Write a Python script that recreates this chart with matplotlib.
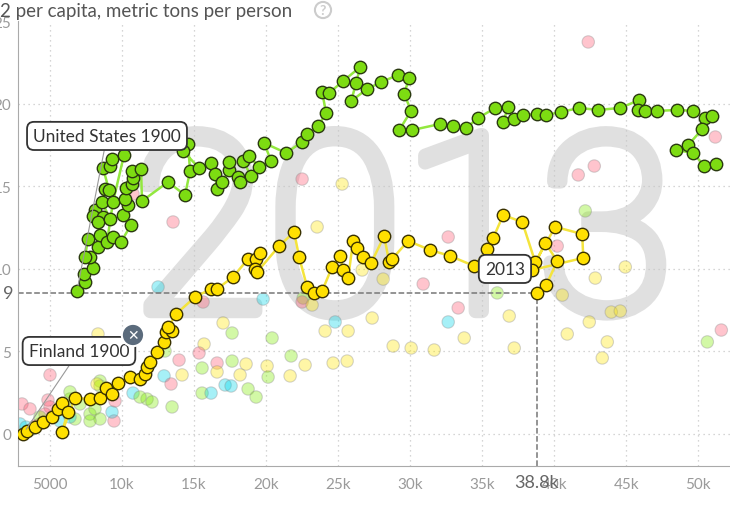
import matplotlib.pyplot as plt
import matplotlib.patheffects as pe

plt.rcParams['font.family'] = ['Lato', 'DejaVu Sans']

# United States trail 1900 -> 2013: GDP per capita and CO2 per person
us_gdp = [6875, 7430, 7361, 7986, 7778, 7430, 7639, 8333, 8472, 8125, 7986, 8681,
          8333, 9167, 8611, 8819, 9097, 8681, 9167, 9306, 10139, 9375, 8958, 9375,
          9931, 10625, 10069, 10417, 10208, 10278, 10694, 10764, 10694, 11319, 11389,
          13194, 14375, 14722, 14583, 14236, 15347, 16181, 16458, 16597, 16944, 17431,
          17431, 18056, 18194, 18958, 18403, 18819, 19514, 20347, 19861, 21389, 22500,
          22847, 23611, 24167, 23889, 24375, 25347, 26528, 26250, 25903, 27014, 27986,
          29167, 29931, 29583, 30069, 29236, 30139, 32083, 32986, 33889, 34722, 35903,
          36806, 36458, 37222, 37847, 38819, 39444, 40486, 41736, 43056, 44583, 45903,
          45833, 46319, 47153, 48542, 49653, 50486, 50972, 50278, 49306, 48472, 49653,
          50417, 51250]
us_co2 = [8.67, 9.21, 9.70, 10.06, 10.73, 10.73, 11.82, 11.33, 12.06, 13.58, 13.21, 13.15,
          12.85, 13.03, 14.06, 14.85, 14.79, 16.12, 16.24, 16.67, 16.91, 14.06, 11.64, 11.94,
          11.64, 12.67, 13.27, 13.88, 14.24, 14.91, 15.15, 15.52, 15.94, 16.06, 14.12,
          15.27, 14.48, 15.94, 17.58, 17.15, 16.12, 16.42, 15.76, 14.85, 15.27, 16.00,
          16.48, 15.58, 15.27, 15.64, 16.55, 16.85, 16.18, 16.55, 17.64, 17.03, 17.70,
          18.18, 18.67, 19.45, 20.73, 20.67, 21.39, 22.24, 21.27, 20.18, 20.91, 21.33,
          21.76, 21.58, 20.61, 19.58, 18.42, 18.42, 18.79, 18.67, 18.55, 19.15, 19.76,
          19.82, 18.91, 19.09, 19.33, 19.39, 19.33, 19.52, 19.76, 19.64, 19.76, 20.24,
          19.64, 19.58, 19.58, 19.64, 19.58, 19.15, 19.27, 18.48, 17.52, 17.21, 17.03,
          16.24, 16.36]

# Finland trail 1900 -> 2013
fi_gdp = [3125, 3403, 3958, 4514, 5139, 5556, 5833, 6250, 5833, 6736, 7778, 8472,
          8889, 9306, 9722, 10556, 11250, 11597, 11736, 11944, 12431, 12917, 13056,
          13472, 13194, 13750, 15069, 16181, 16597, 17708, 18750, 19306, 19583, 19236,
          19375, 20903, 21944, 22292, 22847, 23333, 23889, 24583, 25139, 25347, 25694,
          26042, 26319, 26736, 27292, 28194, 28542, 28750, 29861, 31389, 32778, 34444,
          35347, 35764, 36458, 37778, 38681, 40069, 41944, 42014, 38472, 39375, 40208,
          39444, 38800]
fi_co2 = [0.00, 0.18, 0.42, 0.73, 1.03, 1.52, 1.88, 1.33, 0.12, 2.18, 2.12, 2.18,
          2.79, 2.42, 3.09, 3.45, 3.33, 3.64, 4.06, 4.36, 4.97, 5.58, 6.18,
          6.24, 6.48, 7.27, 8.30, 8.79, 8.79, 9.52, 10.61, 10.61, 10.97, 10.00,
          9.82, 11.39, 12.24, 10.73, 8.91, 8.55, 8.67, 10.12, 10.79, 9.94, 9.45,
          11.70, 11.27, 10.73, 10.36, 12.00, 10.42, 10.61, 11.70, 11.15, 10.79, 10.18,
          11.21, 11.88, 13.27, 12.85, 10.42, 12.55, 12.12, 10.67, 9.94, 11.58, 10.48,
          9.03, 8.55]

# other countries, 2013
bg_gdp = [10764, 13542, 22500, 25278, 23542, 42361, 42778, 41667, 42153, 51181, 32639,
          40208, 12500, 15625, 19792, 22569, 22500, 23194, 26667, 28125, 30903, 17014,
          17639, 20417, 24792, 24097, 25694, 8333, 15694, 15347, 12986, 13958, 14167,
          12917, 13403, 15556, 16597, 16597, 17639, 18611, 18194, 17153, 17569, 18750,
          19306, 15556, 16181, 20069, 20139, 21667, 21736, 22708, 24653, 25625, 13472,
          11736, 12083, 10764, 9444, 9306, 5000, 33333, 32639, 36875, 33750, 28819,
          30069, 31667, 37222, 40556, 42847, 44931, 42431, 43958, 44583, 40903, 43681,
          43333, 50625, 51597, 36042, 27361, 3056, 3611, 4861, 5000, 4653, 4306, 4306,
          6389, 7083, 7778, 6736, 8125, 8472, 2917, 3333, 3750, 5694, 6389, 3958, 8472,
          9514, 11250, 8472, 6389, 7778, 8264]
bg_co2 = [14.55, 12.85, 15.45, 15.15, 12.55, 23.76, 16.24, 15.70, 13.52, 18.00, 11.94,
          11.39, 8.91, 8.00, 8.18, 8.24, 8.00, 7.82, 9.94, 9.39, 9.09, 6.73,
          6.12, 5.82, 6.79, 6.24, 6.24, 6.06, 5.45, 4.91, 5.03, 4.48, 3.58,
          3.52, 3.03, 4.00, 4.30, 3.76, 4.42, 4.24, 3.58, 2.97, 2.91, 2.73,
          2.24, 2.48, 2.48, 4.12, 3.45, 3.52, 4.73, 4.18, 4.30, 4.42, 1.64,
          2.12, 1.94, 2.48, 0.79, 1.33, 3.58, 7.64, 6.79, 7.15, 5.82, 5.33,
          5.21, 5.09, 5.21, 8.42, 9.45, 10.12, 6.79, 7.39, 7.45, 6.06, 5.58,
          4.61, 5.58, 6.30, 8.55, 7.03, 1.82, 1.52, 2.06, 1.64, 1.21, 0.61, 1.03,
          2.12, 1.82, 1.21, 0.91, 1.52, 0.91, 0.61, 0.42, 0.30, 0.79, 1.03, 0.48, 3.21,
          2.00, 2.24, 2.91, 2.55, 0.79, 3.03]
bg_region = ['asia', 'asia', 'asia', 'europe', 'europe', 'asia', 'asia', 'asia', 'americas',
             'asia', 'asia', 'asia', 'africa', 'asia', 'africa', 'americas', 'asia', 'europe',
             'europe', 'europe', 'asia', 'europe', 'americas', 'americas', 'africa', 'europe',
             'europe', 'europe', 'europe', 'asia', 'americas', 'asia', 'europe', 'africa',
             'asia', 'americas', 'asia', 'europe', 'americas', 'europe', 'europe', 'africa',
             'africa', 'americas', 'americas', 'americas', 'africa', 'europe', 'americas',
             'europe', 'americas', 'europe', 'europe', 'europe', 'americas', 'americas',
             'americas', 'africa', 'asia', 'africa', 'asia', 'asia', 'africa', 'europe',
             'europe', 'europe', 'europe', 'europe', 'europe', 'europe', 'europe', 'europe',
             'europe', 'europe', 'europe', 'europe', 'europe', 'europe', 'americas', 'asia',
             'americas', 'europe', 'asia', 'asia', 'asia', 'asia', 'asia', 'asia', 'americas',
             'americas', 'americas', 'americas', 'americas', 'americas', 'americas', 'africa',
             'africa', 'africa', 'africa', 'africa', 'asia', 'americas', 'asia', 'americas',
             'americas', 'americas', 'americas', 'europe']
region_colors = {'asia': '#ff5872', 'americas': '#7feb00', 'europe': '#ffe700',
                 'africa': '#00d5e9'}

x_ticks = [5000, 10000, 15000, 20000, 25000, 30000, 35000, 40000, 45000, 50000]
x_labels = ['5000', '10k', '15k', '20k', '25k', '30k', '35k', '40k', '45k', '50k']
y_ticks = [0, 5, 10, 15, 20, 25]

fig = plt.figure(figsize=(7.3, 5.06), dpi=100)
ax = fig.add_axes([18 / 730, 39 / 506, 712 / 730, 445 / 506])
ax.set_xlim(2780, 52200)
ax.set_ylim(-1.94, 25.03)

ax.text(0.54, 0.50, '2013', transform=ax.transAxes, fontsize=178, color='#e0e0e0',
        ha='center', va='center', zorder=0, family='Roboto', fontweight='light',
        path_effects=[pe.withStroke(linewidth=10, foreground='#e0e0e0')])

for x in x_ticks:
    ax.axvline(x, color='#c8c8c8', ls=(0, (1, 3)), lw=0.9, zorder=1)
for y in y_ticks[:-1]:
    ax.axhline(y, color='#c8c8c8', ls=(0, (1, 3)), lw=0.9, zorder=1)

cols = [region_colors[r] for r in bg_region]
ax.scatter(bg_gdp, bg_co2, s=80, c=cols, alpha=0.35, edgecolors='#888888',
           linewidths=0.8, zorder=2)

ax.plot(us_gdp, us_co2, color='#93e83f', lw=1.8, zorder=3)
ax.scatter(us_gdp, us_co2, s=80, c='#7ddc12', edgecolors='#2a3a10', linewidths=1.0, zorder=4)
ax.plot(fi_gdp, fi_co2, color='#f4e43c', lw=1.8, zorder=3)
ax.scatter(fi_gdp, fi_co2, s=80, c='#ffe000', edgecolors='#3a3200', linewidths=1.0, zorder=4)

# 2013 guide lines for Finland
last_x, last_y = fi_gdp[-1], fi_co2[-1]
ax.plot([2780, last_x], [last_y, last_y], ls='--', color='#777777', lw=1.1, zorder=2)
ax.plot([last_x, last_x], [-1.94, last_y], ls='--', color='#777777', lw=1.1, zorder=2)

box = dict(boxstyle='round,pad=0.35,rounding_size=0.4', fc='white', ec='#333333', lw=1.3)
ax.annotate('United States 1900', xy=(us_gdp[0], us_co2[0]), xytext=(30, 155),
            textcoords='offset pixels', ha='center', va='center', fontsize=12.5,
            color='#333333', bbox=box, zorder=6,
            arrowprops=dict(arrowstyle='-', color='#999999', lw=0.8, shrinkA=0, shrinkB=4))
ax.annotate('Finland 1900', xy=(fi_gdp[0], fi_co2[0]), xytext=(56, 83),
            textcoords='offset pixels', ha='center', va='center', fontsize=12.5,
            color='#333333', bbox=box, zorder=6,
            arrowprops=dict(arrowstyle='-', color='#999999', lw=0.8, shrinkA=0, shrinkB=4))
ax.annotate('\u2715', xy=(fi_gdp[0], fi_co2[0]), xytext=(110, 99),
            textcoords='offset pixels', ha='center', va='center', fontsize=10,
            color='white', fontweight='bold', family='DejaVu Sans', zorder=7,
            bbox=dict(boxstyle='circle,pad=0.3', fc='#5b6b7c', ec='white', lw=1.5))
ax.annotate('2013', xy=(last_x, last_y), xytext=(-32, 24), textcoords='offset pixels',
            ha='center', va='center', fontsize=12.5, color='#333333', bbox=box, zorder=6)

ax.set_xticks(x_ticks)
ax.set_xticklabels(x_labels)
ax.set_yticks(y_ticks)
ax.tick_params(length=0, labelsize=11, labelcolor='#9a9a9a')
ax.tick_params(axis='x', pad=8)
ax.tick_params(axis='y', pad=5)
for side in ['top', 'right']:
    ax.spines[side].set_visible(False)
for side in ['left', 'bottom']:
    ax.spines[side].set_color('#aaaaaa')

ax.annotate('9', xy=(0, last_y), xycoords=('axes fraction', 'data'), xytext=(-4, 0),
            textcoords='offset pixels', ha='right', va='center', fontsize=13,
            color='#666666')
ax.annotate('38.8k', xy=(last_x, 0), xycoords=('data', 'axes fraction'), xytext=(0, -16),
            textcoords='offset pixels', ha='center', va='center', fontsize=13,
            color='#666666')

fig.text(0.0, 1 - 12 / 506, '2 per capita, metric tons per person', fontsize=13.5,
         color='#555555', ha='left', va='center')
fig.text(323 / 730, 1 - 11 / 506, '?', fontsize=10, color='#cccccc', ha='center',
         va='center', fontweight='bold',
         bbox=dict(boxstyle='circle,pad=0.15', fc='white', ec='#cccccc', lw=1.5))

fig.savefig('out.png', dpi=100)
